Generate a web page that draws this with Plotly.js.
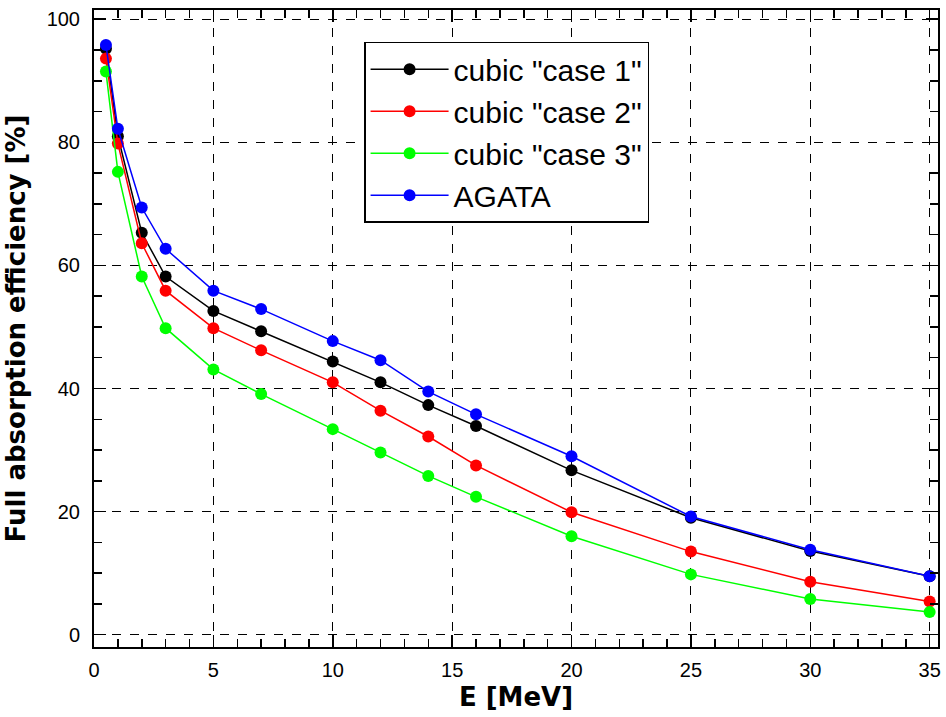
<!DOCTYPE html>
<html>
<head>
<meta charset="utf-8">
<script src="https://cdn.plot.ly/plotly-3.0.1.min.js"></script>
<style>html,body{margin:0;padding:0;background:#fff;}#chart{width:946px;height:717px;}</style>
</head>
<body>
<div id="chart"></div>
<script>
const energies = [0.5, 1, 2, 3, 5, 7, 10, 12, 14, 16, 20, 25, 30, 35];
const case1 = [95.2, 81.0, 65.3, 58.2, 52.6, 49.3, 44.4, 41.0, 37.3, 33.9, 26.7, 19.0, 13.6, 9.5];
const case2 = [93.6, 79.8, 63.6, 55.9, 49.8, 46.2, 41.0, 36.4, 32.2, 27.5, 19.9, 13.5, 8.6, 5.4];
const case3 = [91.5, 75.2, 58.2, 49.8, 43.1, 39.1, 33.4, 29.6, 25.8, 22.4, 16.0, 9.8, 5.8, 3.7];
const agata = [95.8, 82.2, 69.4, 62.7, 55.9, 52.9, 47.7, 44.6, 39.5, 35.8, 29.0, 19.2, 13.8, 9.5];
const seriesNames = ['cubic "case 1"', 'cubic "case 2"', 'cubic "case 3"', 'AGATA'];
const seriesColors = ['#000000', '#ff0000', '#00ff00', '#0000ff'];
const seriesValues = [case1, case2, case3, agata];

const traces = seriesValues.map((vals, i) => ({
  x: energies,
  y: vals,
  type: 'scatter',
  mode: 'lines+markers',
  name: seriesNames[i],
  legendgroup: 'g' + i,
  line: {color: seriesColors[i], width: 1.5},
  marker: {color: seriesColors[i], size: 12, symbol: 'circle'}
}));

const tickFont = {family: 'Liberation Sans, Arial', size: 20, color: '#000'};
const titleFont = {family: 'DejaVu Sans, Liberation Sans, Arial', size: 26, color: '#000'};
const layout = {
  width: 946, height: 717,
  margin: {l: 94, r: 8, t: 10, b: 70},
  paper_bgcolor: '#fff', plot_bgcolor: '#fff',
  showlegend: true,
  legend: {
    x: 0.32, y: 0.95, xanchor: 'left', yanchor: 'top',
    bgcolor: '#fff', bordercolor: '#000', borderwidth: 1.5,
    font: {family: 'Liberation Sans, Arial', size: 30, color: '#000'},
    tracegroupgap: 0, itemwidth: 78
  },
  xaxis: {
    range: [0, 35.35], dtick: 5, tick0: 0,
    showgrid: true, gridcolor: '#000', griddash: 'dash', gridwidth: 1,
    zeroline: false,
    showline: true, linecolor: '#000', linewidth: 2, mirror: 'ticks',
    ticks: 'inside', ticklen: 12, tickcolor: '#000', tickwidth: 1.5,
    minor: {dtick: 1, ticks: 'inside', ticklen: 8, tickcolor: '#000', showgrid: false},
    tickfont: tickFont, ticklabelstandoff: 4,
    title: {text: '<b>E [MeV]</b>', font: titleFont, standoff: 8}
  },
  yaxis: {
    range: [-2, 101.5], dtick: 20, tick0: 0,
    showgrid: true, gridcolor: '#000', griddash: 'dash', gridwidth: 1,
    zeroline: false,
    showline: true, linecolor: '#000', linewidth: 2, mirror: 'ticks',
    ticks: 'inside', ticklen: 12, tickcolor: '#000', tickwidth: 1.5,
    minor: {dtick: 5, ticks: 'inside', ticklen: 8, tickcolor: '#000', showgrid: false},
    tickfont: tickFont, ticklabelstandoff: 8,
    title: {text: '<b>Full absorption efficiency [%]</b>', font: titleFont, standoff: 14}
  }
};

Plotly.newPlot('chart', traces, layout, {displayModeBar: false, staticPlot: true});
</script>
</body>
</html>
